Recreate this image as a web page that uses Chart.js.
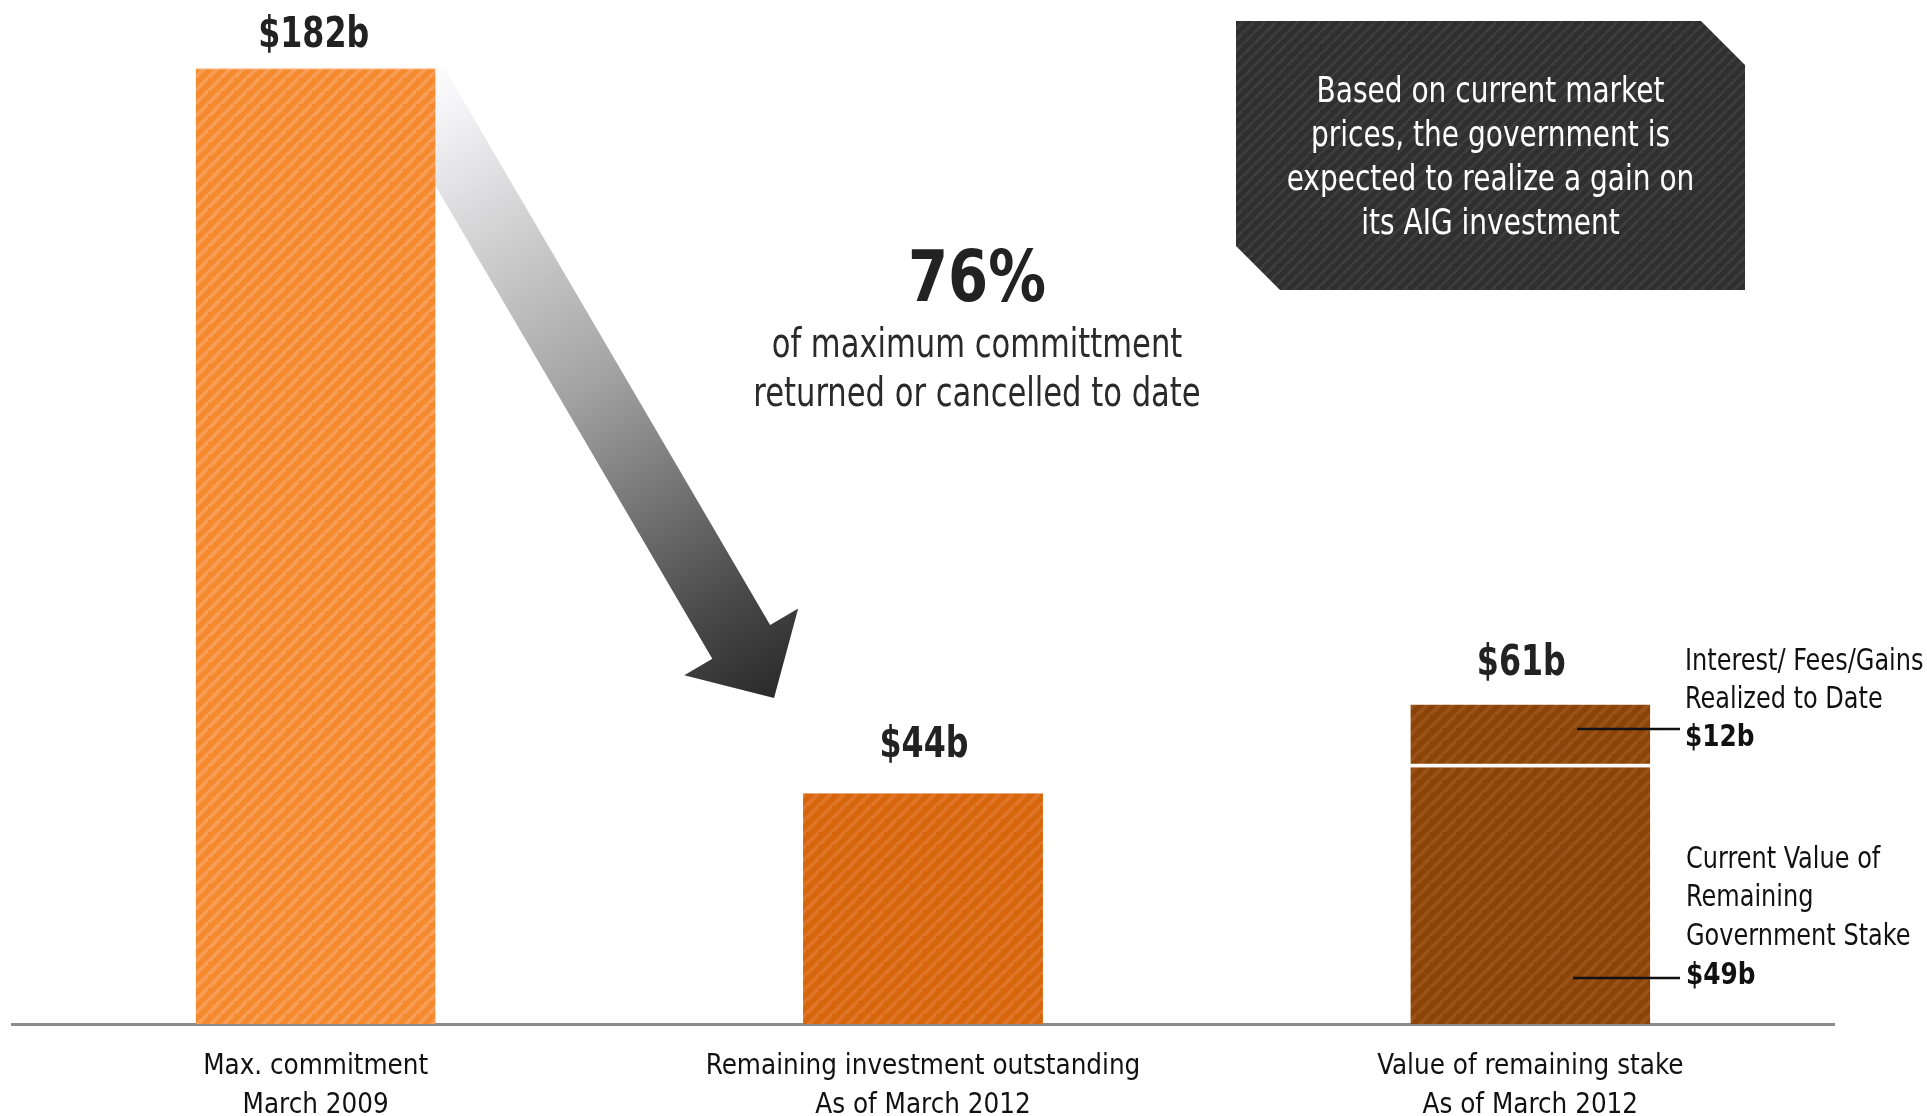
<!DOCTYPE html>
<html>
<head>
<meta charset="utf-8">
<script src="https://cdn.jsdelivr.net/npm/chart.js@4.4.1/dist/chart.umd.min.js"></script>
<style>
    html, body { margin: 0; padding: 0; background: #fff; }
    #wrap { width: 1927px; height: 1116px; }
</style>
</head>
<body>
<div id="wrap"><canvas id="aig-chart" width="1927" height="1116"></canvas></div>
<script>
const categories = [
    ['Max. commitment', 'March 2009'],
    ['Remaining investment outstanding', 'As of March 2012'],
    ['Value of remaining stake', 'As of March 2012']
];
const stakeValues = [182, 44, 49];
const gainValues = [0, 0, 12];
const totalLabels = ['$182b', '$44b', '$61b'];
const headline = '76%';
const headlineText = ['of maximum committment', 'returned or cancelled to date'];
const noteText = ['Based on current market', 'prices, the government is', 'expected to realize a gain on', 'its AIG investment'];
const gainText = ['Interest/ Fees/Gains', 'Realized to Date', '$12b'];
const stakeText = ['Current Value of', 'Remaining', 'Government Stake', '$49b'];

const FONT = "'DejaVu Sans Condensed', 'DejaVu Sans', sans-serif";

function stripePattern(base, stripe, size, lineW) {
    const c = document.createElement('canvas');
    c.width = size;
    c.height = size;
    const g = c.getContext('2d');
    g.fillStyle = base;
    g.fillRect(0, 0, size, size);
    g.strokeStyle = stripe;
    g.lineWidth = lineW;
    g.beginPath();
    g.moveTo(-size, size * 2); g.lineTo(size * 2, -size);
    g.moveTo(-size * 2, size); g.lineTo(size, -size * 2);
    g.moveTo(0, size * 2); g.lineTo(size * 2, 0);
    g.stroke();
    return g.createPattern(c, 'repeat');
}

// text squeezed horizontally to get closer to the condensed face of the original
function squeezed(c, text, x, y, sx) {
    c.save();
    c.translate(x, y);
    c.scale(sx, 1);
    c.fillText(text, 0, 0);
    c.restore();
}

const ctx = document.getElementById('aig-chart').getContext('2d');

const barFills = [
    stripePattern('#f5892e', '#f89d55', 13, 4),
    stripePattern('#d7650b', '#df7627', 13, 4),
    stripePattern('#8a4408', '#995217', 13, 4)
];
const boxFill = stripePattern('#2f2f2f', '#3d3d3d', 11, 3);

function drawArrow(chart) {
    const bars = chart.getDatasetMeta(0).data;
    const b1 = bars[0], b2 = bars[1];
    const r1 = b1.x + b1.width / 2;
    const top1 = b1.y;
    const l2 = b2.x - b2.width / 2;
    const top2 = b2.y;

    const sx = r1 - 30, sy = top1;
    const tx = l2 - 29, ty = top2 - 95;
    const len = Math.hypot(tx - sx, ty - sy);
    const dx = (tx - sx) / len, dy = (ty - sy) / len;
    const nx = dy, ny = -dx;
    const w = 33.5, hw = 66, hl = 65;
    const x0 = sx - dx * 120, y0 = sy - dy * 120;
    const bx = tx - dx * hl, by = ty - dy * hl;

    const c = chart.ctx;
    c.save();
    c.beginPath();
    c.rect(0, top1, chart.width, chart.height);
    c.clip();
    const grad = c.createLinearGradient(sx, sy, tx, ty);
    grad.addColorStop(0, '#ffffff');
    grad.addColorStop(0.08, '#f4f4f6');
    grad.addColorStop(0.5, '#a3a3a3');
    grad.addColorStop(0.85, '#4a4a4a');
    grad.addColorStop(1, '#2a2a2a');
    c.fillStyle = grad;
    c.beginPath();
    c.moveTo(x0 + nx * w, y0 + ny * w);
    c.lineTo(bx + nx * w, by + ny * w);
    c.lineTo(bx + nx * hw, by + ny * hw);
    c.lineTo(tx, ty);
    c.lineTo(bx - nx * hw, by - ny * hw);
    c.lineTo(bx - nx * w, by - ny * w);
    c.lineTo(x0 - nx * w, y0 - ny * w);
    c.closePath();
    c.fill();
    c.restore();
}

function drawTotals(chart) {
    const c = chart.ctx;
    const yScale = chart.scales.y;
    const bars = chart.getDatasetMeta(0).data;
    const lift = [32, 47, 40];
    const nudge = [-2, 1, -9];
    c.save();
    c.fillStyle = '#222';
    c.font = 'bold 42px ' + FONT;
    c.textAlign = 'center';
    c.textBaseline = 'middle';
    totalLabels.forEach((txt, i) => {
        const y = yScale.getPixelForValue(stakeValues[i] + gainValues[i]);
        squeezed(c, txt, bars[i].x + nudge[i], y - lift[i], 0.84);
    });
    c.restore();
}

function drawHeadline(chart) {
    const c = chart.ctx;
    c.save();
    c.fillStyle = '#222';
    c.textAlign = 'center';
    c.textBaseline = 'middle';
    c.font = 'bold 72px ' + FONT;
    squeezed(c, headline, 977, 282, 0.89);
    c.font = '40px ' + FONT;
    c.fillStyle = '#2a2a2a';
    headlineText.forEach((t, i) => squeezed(c, t, 977, 347 + i * 49, 0.85));
    c.restore();
}

function drawNoteBox(chart) {
    const c = chart.ctx;
    const x1 = 1236, y1 = 21, x2 = 1745, y2 = 290, cut = 44;
    c.save();
    c.beginPath();
    c.moveTo(x1, y1);
    c.lineTo(x2 - cut, y1);
    c.lineTo(x2, y1 + cut);
    c.lineTo(x2, y2);
    c.lineTo(x1 + cut, y2);
    c.lineTo(x1, y2 - cut);
    c.closePath();
    c.fillStyle = boxFill;
    c.fill();
    c.fillStyle = '#fff';
    c.font = '35px ' + FONT;
    c.textAlign = 'center';
    c.textBaseline = 'middle';
    noteText.forEach((t, i) => squeezed(c, t, (x1 + x2) / 2, 93 + i * 44, 0.89));
    c.restore();
}

function drawCallouts(chart) {
    const c = chart.ctx;
    c.save();
    c.strokeStyle = '#111';
    c.lineWidth = 2.5;
    c.beginPath();
    c.moveTo(1577, 729); c.lineTo(1680, 729);
    c.moveTo(1573, 978); c.lineTo(1680, 978);
    c.stroke();
    c.fillStyle = '#111';
    c.textAlign = 'left';
    c.textBaseline = 'middle';
    gainText.forEach((t, i) => {
        c.font = (i === gainText.length - 1 ? 'bold 31px ' : '30px ') + FONT;
        squeezed(c, t, 1685, 662 + i * 38, 0.89);
    });
    stakeText.forEach((t, i) => {
        c.font = (i === stakeText.length - 1 ? 'bold 31px ' : '30px ') + FONT;
        squeezed(c, t, 1686, 860 + i * 38.7, 0.89);
    });
    c.restore();
}

const overlayPlugin = {
    id: 'overlay',
    beforeDatasetsDraw(chart) {
        drawArrow(chart);
    },
    afterDatasetsDraw(chart) {
        drawTotals(chart);
        drawHeadline(chart);
        drawNoteBox(chart);
        drawCallouts(chart);
    }
};

new Chart(ctx, {
    type: 'bar',
    data: {
        labels: categories,
        datasets: [
            {
                label: 'Remaining',
                data: stakeValues,
                backgroundColor: barFills,
                borderColor: ['#f8b07a', '#ecaa7c', '#c99b78'],
                borderWidth: { top: 1, left: 0, right: 0, bottom: 0 },
                borderSkipped: false,
                barPercentage: 0.395,
                categoryPercentage: 1
            },
            {
                label: 'Interest/ Fees/Gains',
                data: gainValues,
                backgroundColor: barFills[2],
                borderColor: '#ffffff',
                borderWidth: { top: 1, left: 0, right: 0, bottom: 3 },
                borderSkipped: false,
                barPercentage: 0.395,
                categoryPercentage: 1
            }
        ]
    },
    options: {
        responsive: false,
        animation: false,
        devicePixelRatio: 1,
        layout: {
            padding: { left: 12, right: 93, top: 0, bottom: 0 }
        },
        scales: {
            x: {
                stacked: true,
                grid: { display: false, drawTicks: false },
                border: { display: true, color: '#8c8c8c', width: 3 },
                ticks: {
                    color: '#111',
                    padding: 23,
                    font: { family: FONT, size: 27.5, lineHeight: 1.42 }
                },
                afterFit: function(axis) {
                    axis.height = 92;
                }
            },
            y: {
                stacked: true,
                display: false,
                min: 0,
                max: 195
            }
        },
        plugins: {
            legend: { display: false },
            tooltip: { enabled: false }
        }
    },
    plugins: [overlayPlugin]
});
</script>
</body>
</html>
